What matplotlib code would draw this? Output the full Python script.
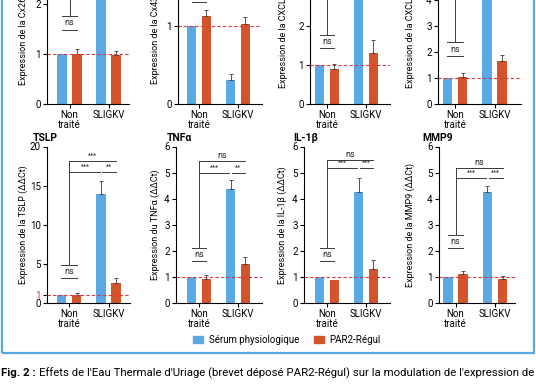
import numpy as np
import matplotlib
matplotlib.use('Agg')
import matplotlib.pyplot as plt
from matplotlib.patches import Patch, Rectangle

plt.rcParams['font.family'] = ['Roboto', 'DejaVu Sans']
plt.rcParams['axes.linewidth'] = 0.8

# ---- données (ΔΔCt) ----
genes = ['Cx26', 'Cx43', 'CXCL1', 'CXCL8', 'TSLP', 'TNFα', 'IL-1β', 'MMP9']
ylabels = ['Expression de la Cx26 (ΔΔCt)', 'Expression de la Cx43 (ΔΔCt)',
           'Expression de la CXCL1 (ΔΔCt)', 'Expression de la CXCL8 (ΔΔCt)',
           'Expression de la TSLP (ΔΔCt)', 'Expression du TNFα (ΔΔCt)',
           'Expression de la IL-1β (ΔΔCt)', 'Expression de la MMP9 (ΔΔCt)']
groups = ['Non\ntraité', 'SLIGKV']
series = ['Sérum physiologique', 'PAR2-Régul']

serum_mean = [[1.0, 2.6], [1.0, 0.31], [1.0, 3.4], [1.0, 5.0],
              [1.0, 13.9], [1.0, 4.37], [1.0, 4.25], [1.0, 4.25]]
serum_err = [[0, 0.3], [0, 0.07], [0, 0.4], [0, 0.4],
             [0, 1.7], [0, 0.33], [0, 0.56], [0, 0.22]]
par2_mean = [[1.0, 0.99], [1.13, 1.03], [0.90, 1.32], [1.03, 1.66],
             [1.05, 2.56], [0.93, 1.49], [0.87, 1.3], [1.11, 0.92]]
par2_err = [[0.09, 0.08], [0.07, 0.08], [0.13, 0.33], [0.16, 0.24],
            [0.2, 0.6], [0.15, 0.29], [0.0, 0.36], [0.13, 0.1]]

yticks = [[0, 1, 2, 3], [0, 1, 2], [0, 1, 2, 3, 4], [0, 1, 2, 3, 4, 5, 6],
          [0, 1, 5, 10, 15, 20], [0, 1, 2, 3, 4, 5, 6], [0, 1, 2, 3, 4, 5, 6],
          [0, 1, 2, 3, 4, 5, 6]]
ymax = [3.14, 2.01, 4.03, 6.04, 20, 6, 6, 6]

# statistiques : (trait ns, barre T, niveau 2, niveau 3, libellés)
stat_ns_low = [1.49, 1.30, 1.43, 1.86, 3.2, 1.62, 1.62, 2.1]
stat_ns_high = [1.76, 1.47, 1.78, 2.37, 4.9, 2.1, 2.1, 2.62]
stat_h2 = [2.95, 1.72, 3.85, 5.5, 16.8, 5.0, 5.17, 4.78]
stat_h3 = [3.08, 1.88, 3.97, 5.85, 18.1, 5.45, 5.49, 5.17]
stat_labels = [['***', 'ns', '***'], ['***', '***', 'ns'], ['***', '*', '***'],
               ['***', '***', '***'], ['***', '**', '***'], ['***', '**', 'ns'],
               ['***', '***', 'ns'], ['***', '***', 'ns']]

BLUE = '#5aa8e4'
ORANGE = '#d3532b'
RED = '#d93a3a'
FRAME = '#5aa6de'
LINE = '#3a3a3a'

W, H = 536, 386
# mise en page en pixels : axe y, fin axe x, centre groupe 0, centre groupe 1, ylabel, titre
layout = [(47, 129, 69.5, 108.5, 28, 33), (178, 262, 199, 238, 160, 167),
          (310, 390, 327, 366, 288, 293), (438, 521, 455, 494.5, 415, 422),
          (47, 130, 69, 108.5, 28, 33), (176, 262, 199, 238, 160, 167),
          (304, 390, 327, 366, 287, 293), (439, 515, 455.5, 495, 415, 422)]
rows = [(-53, 104), (146.5, 303)]

fig = plt.figure(figsize=(W / 100, H / 100), dpi=100)

off, bw = 0.19, 0.25
x = np.arange(2)

for i in range(8):
    x0, x1, g0, g1, xlab, xtit = layout[i]
    ytop, ybot = rows[i // 4]
    ax = fig.add_axes([x0 / W, 1 - ybot / H, (x1 - x0) / W, (ybot - ytop) / H])
    unit = g1 - g0
    ax.set_xlim((x0 - g0) / unit, (x1 - g0) / unit)
    ax.set_ylim(0, ymax[i])

    ax.bar(x - off, serum_mean[i], bw, color=BLUE, zorder=2)
    ax.bar(x + off, par2_mean[i], bw, color=ORANGE, zorder=2)
    for xs, m, e in [(x - off, serum_mean[i], serum_err[i]), (x + off, par2_mean[i], par2_err[i])]:
        for xx, mm, ee in zip(xs, m, e):
            if ee > 0:
                ax.errorbar(xx, mm, yerr=[[0], [ee]], fmt='none', ecolor=LINE,
                            elinewidth=0.6, capsize=1.5, capthick=0.6, zorder=3)

    ax.axhline(1, color=RED, lw=0.8, ls=(0, (3, 2)), zorder=4)

    # traits de significativité
    kw = dict(color=LINE, lw=0.7, zorder=5)
    lo, hi, h2, h3 = stat_ns_low[i], stat_ns_high[i], stat_h2[i], stat_h3[i]
    ax.plot([-off, off], [lo, lo], **kw)
    ax.plot([-off, off], [hi, hi], **kw)
    ax.text(0, (lo + hi) / 2, 'ns', ha='center', va='center', fontsize=6.5, color='#222')
    ax.plot([0, 0], [hi, h3], **kw)
    ax.plot([0, 1 - off - 0.03], [h2, h2], **kw)
    ax.plot([1 - off + 0.03, 1 + off], [h2, h2], **kw)
    ax.plot([0, 1 + off], [h3, h3], **kw)
    lab = stat_labels[i]
    for xt, yt, t in [((1 - off) / 2, h2, lab[0]), (1, h2, lab[1]), ((1 + off) / 2, h3, lab[2])]:
        fs = 6.5 if t == 'ns' else 4.8
        ax.annotate(t, (xt, yt), xytext=(0, 0.8), textcoords='offset points',
                    ha='center', va='bottom', fontsize=fs, color='#222')

    for s in ['top', 'right']:
        ax.spines[s].set_visible(False)
    ax.set_xticks(x)
    ax.set_xticklabels(groups, fontsize=7, linespacing=1.0)
    ax.set_yticks(yticks[i])
    ax.tick_params(axis='both', length=3, width=0.8, labelsize=7, pad=1.5)
    if genes[i] == 'TSLP':
        ax.get_yticklabels()[1].set_color(RED)
        ax.yaxis.get_major_ticks()[1].tick1line.set_color(RED)
    ax.set_ylabel(ylabels[i], fontsize=6.5)
    ax.yaxis.set_label_coords((xlab - x0) / (x1 - x0), 0.5)
    ax.text((xtit - x0) / (x1 - x0), 1 + 4 / (ybot - ytop), genes[i], transform=ax.transAxes,
            fontsize=7.5, fontweight='bold', ha='left', va='bottom', clip_on=False)

# légende
handles = [Patch(color=BLUE), Patch(color=ORANGE)]
fig.legend(handles, series, loc='center', bbox_to_anchor=(287 / W, 1 - 340 / H), ncol=2,
           frameon=False, fontsize=7, handlelength=1.0, handleheight=0.6,
           handletextpad=0.6, columnspacing=1.5)

# cadre bleu
fig.add_artist(Rectangle((2 / W, 1 - 353 / H), 532 / W, 360 / H, transform=fig.transFigure,
                         fill=False, edgecolor=FRAME, lw=1.6, clip_on=False))

# légende de la figure, ajustée à la largeur de l'image
renderer = fig.canvas.get_renderer()
cap_y = 1 - 373 / H
t1 = fig.text(1 / W, cap_y, 'Fig. 2 :', fontsize=7.6, fontweight='bold', va='center', ha='left')
t2 = fig.text(0, cap_y,
              "Effets de l'Eau Thermale d'Uriage (brevet déposé PAR2-Régul) sur la modulation de l'expression de",
              fontsize=7.6, va='center', ha='left')
for _ in range(2):
    bb = t1.get_window_extent(renderer)
    t2.set_x((bb.x1 + 3) / W)
    end = t2.get_window_extent(renderer).x1
    fs = t1.get_fontsize() * (533 - 1) / (end - 1)
    t1.set_fontsize(fs)
    t2.set_fontsize(fs)
bb = t1.get_window_extent(renderer)
t2.set_x((bb.x1 + 3) / W)

fig.savefig('out.png', dpi=100)
